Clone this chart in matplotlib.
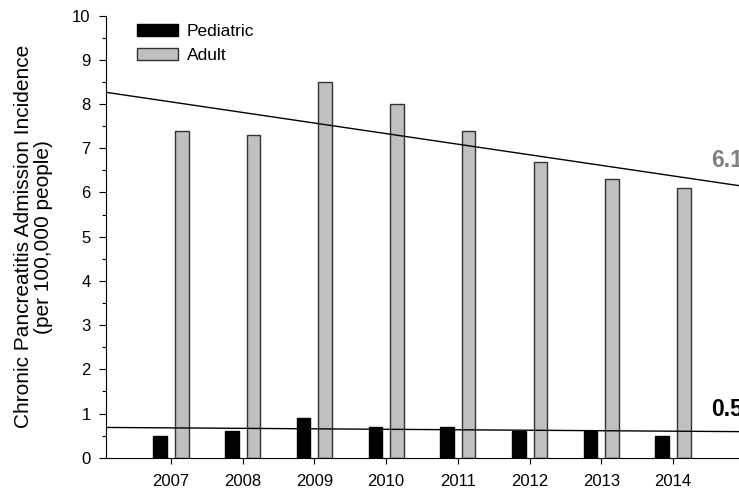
import numpy as np
import matplotlib
matplotlib.use("Agg")
import matplotlib.pyplot as plt
from matplotlib.ticker import MultipleLocator

plt.rcParams['font.family'] = ['Liberation Sans', 'DejaVu Sans']

years = [2007, 2008, 2009, 2010, 2011, 2012, 2013, 2014]
pediatric = [0.5, 0.6, 0.9, 0.7, 0.7, 0.6, 0.6, 0.5]
adult = [7.4, 7.3, 8.5, 8.0, 7.4, 6.7, 6.3, 6.1]
series_labels = ["Pediatric", "Adult"]
ylabel = "Chronic Pancreatitis Admission Incidence\n(per 100,000 people)"

fig = plt.figure(figsize=(7.39, 4.92), dpi=100)
ax = fig.add_axes([0.1434, 0.0697, 0.8566, 0.8984])

x = np.array(years, dtype=float)
w = 0.19
off = 0.15
ax.bar(x - off, pediatric, width=w, color='black', edgecolor='black', linewidth=1.0, label=series_labels[0], zorder=2)
ax.bar(x + off, adult, width=w, color='#c0c0c0', edgecolor='#333333', linewidth=1.0, label=series_labels[1], zorder=2)

xmin, xmax = 2006.094, 2014.92
xx = np.array([xmin, xmax])
for vals in (adult, pediatric):
    p = np.polyfit(x, vals, 1)
    ax.plot(xx, np.polyval(p, xx), color='black', linewidth=1.0, zorder=3)

ax.set_xlim(xmin, xmax)
ax.set_ylim(0, 10)
ax.set_xticks(years)
ax.set_xticklabels([str(y) for y in years])
ax.yaxis.set_major_locator(MultipleLocator(1))
ax.yaxis.set_minor_locator(MultipleLocator(0.5))
ax.tick_params(axis='y', which='major', direction='out', length=5, width=0.8, labelsize=12, pad=6)
ax.tick_params(axis='y', which='minor', direction='out', length=3, width=0.8)
ax.tick_params(axis='x', which='major', direction='out', length=4.5, width=0.8, labelsize=12, pad=7)
for s in ('top', 'right'):
    ax.spines[s].set_visible(False)
for s in ('left', 'bottom'):
    ax.spines[s].set_linewidth(0.8)

ax.set_ylabel(ylabel, fontsize=15, labelpad=14, linespacing=1.06)

ax.text(2014.53, 6.72, "6.1", fontsize=16.5, fontweight='bold', color='#808080', va='center', ha='left', clip_on=False)
ax.text(2014.53, 1.08, "0.5", fontsize=16.5, fontweight='bold', color='black', va='center', ha='left', clip_on=False)

leg = ax.legend(loc='upper left', bbox_to_anchor=(137 / 739, 1 - 23.5 / 492), bbox_transform=fig.transFigure,
                frameon=False, fontsize=12.5, borderpad=0, borderaxespad=0,
                handlelength=2.36, handleheight=0.75, handletextpad=0.52, labelspacing=0.5)

fig.savefig("out.png", dpi=100)
